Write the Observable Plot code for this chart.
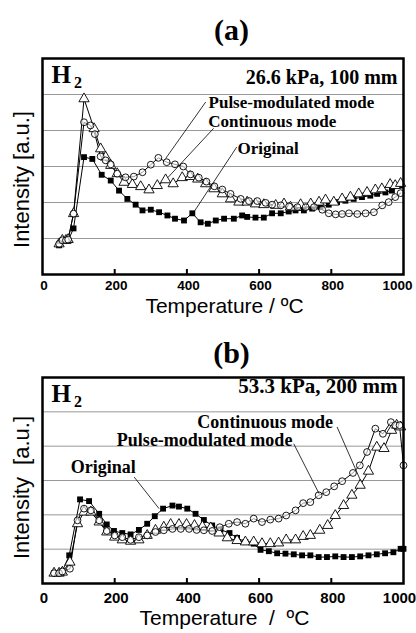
<!DOCTYPE html>
<html>
<head>
<meta charset="utf-8">
<script src="https://cdn.jsdelivr.net/npm/d3@7"></script>
<script src="https://cdn.jsdelivr.net/npm/@observablehq/plot@0.6"></script>
<style>
  html, body { margin: 0; padding: 0; background: white; }
  #root svg { display: block; }
</style>
</head>
<body>
<div id="root"></div>
<script>
// ---------- Panel (a): 26.6 kPa, 100 mm ----------
const aOrigT = [46,55,65,71,86,115,138,164,189,212,235,258,277,300,323,346,367,392,415,438,458,480,503,530,553,567,590,613,636,660,682,701,724,747,770,793,816,839,862,885,908,927,950,968,992];
const aOrigV = [0.81,0.94,0.94,0.94,1.28,3.26,3.21,2.77,2.61,2.33,2.1,1.94,1.78,1.80,1.73,1.64,1.55,1.5,1.70,1.45,1.41,1.5,1.55,1.55,1.64,1.60,1.58,1.58,1.70,1.70,1.75,1.78,1.78,1.83,1.87,1.94,2.01,2.05,2.1,2.15,2.19,2.24,2.28,2.33,2.47];
const aContT = [46,55,65,71,86,115,143,161,175,189,207,226,249,272,295,318,341,362,387,409,430,452,475,498,521,544,567,590,613,646,669,687,715,743,766,784,807,830,853,876,899,922,940,963,977,992];
const aContV = [0.85,0.95,0.95,0.97,1.69,4.88,4.05,3.49,3.26,3.03,2.8,2.56,2.5,2.44,2.35,2.47,2.63,2.52,2.69,2.72,2.65,2.52,2.38,2.24,2.1,2.01,2.01,1.96,1.94,1.92,1.96,1.87,1.94,1.96,2.01,2.07,2.01,2.1,2.15,2.24,2.28,2.35,2.38,2.5,2.47,2.53];
const aPulseT = [46,55,65,71,86,115,133,145,161,175,189,207,230,253,277,300,321,344,367,390,410,433,454,476,498,521,549,572,595,618,636,660,683,706,729,752,775,793,812,830,849,872,895,918,941,959,977,992];
const aPulseV = [0.85,0.95,0.95,0.97,1.69,4.23,4.14,3.9,3.28,3.17,3.06,2.8,2.7,2.72,2.84,3.05,3.24,3.12,3.06,3.0,2.78,2.69,2.58,2.45,2.36,2.24,2.1,2.04,2.04,1.99,1.94,1.92,1.89,1.87,1.87,1.87,1.8,1.70,1.67,1.68,1.70,1.68,1.70,1.73,1.92,2.01,2.15,2.26];

// ---------- Panel (b): 53.3 kPa, 200 mm ----------
const bOrigT = [32,46,55,74,104,129,157,178,198,221,244,267,290,311,334,360,378,401,424,447,470,493,518,539,562,585,604,627,650,673,696,719,742,765,788,811,834,857,880,903,926,949,972,992,1000];
const bOrigV = [0.30,0.30,0.36,0.82,2.45,2.40,2.03,1.72,1.53,1.47,1.43,1.56,1.74,1.96,2.18,2.27,2.24,2.18,2.03,1.85,1.69,1.57,1.47,1.33,1.21,1.16,0.98,0.94,0.88,0.87,0.85,0.82,0.82,0.77,0.77,0.79,0.77,0.77,0.79,0.82,0.85,0.88,0.91,1.01,1.01];
const bPulseT = [32,46,55,76,97,115,134,157,178,200,221,244,267,290,313,336,360,383,406,427,447,470,491,516,539,562,585,608,631,654,675,701,722,742,765,786,808,830,860,879,899,922,943,965,977,989,1000];
const bPulseV = [0.30,0.30,0.35,0.43,1.84,2.18,2.13,1.84,1.53,1.40,1.35,1.27,1.35,1.40,1.50,1.55,1.59,1.59,1.59,1.56,1.55,1.53,1.64,1.74,1.79,1.74,1.89,1.79,1.86,1.89,1.98,2.13,2.34,2.37,2.57,2.66,2.83,2.98,3.22,3.44,3.83,4.51,4.36,4.70,4.61,4.61,3.44];
const bContT = [32,46,55,76,97,115,134,157,178,200,221,244,267,290,313,336,355,378,399,421,443,466,489,512,539,562,585,608,631,654,675,701,722,742,768,790,811,834,857,880,903,926,946,967,981,992];
const bContV = [0.30,0.30,0.33,0.62,1.74,2.08,2.08,1.79,1.50,1.35,1.27,1.23,1.27,1.40,1.55,1.64,1.72,1.72,1.72,1.69,1.66,1.62,1.47,1.33,1.25,1.21,1.21,1.16,1.16,1.18,1.27,1.27,1.37,1.40,1.55,1.69,1.98,2.27,2.57,2.86,3.27,3.97,3.93,4.46,4.61,4.56];

// axis ticks & texts
const xTicks = [0, 200, 400, 600, 800];
const xTickEnd = [1000];
const innerTicks = [200, 400, 600, 800];
const gridVals = [1, 2, 3, 4, 5];
const xLabel = "Temperature / ºC";
const xLabelB = "Temperature\u00a0\u00a0/\u00a0\u00a0ºC";
const yLabel = "Intensity [a.u.]";
const yLabelB = "Intensity\u00a0\u00a0[a.u.]";

// annotation labels (data coordinates) and leader lines
const annA = [
  {text: "Pulse-modulated mode", x: 460, y: 4.78},
  {text: "Continuous mode", x: 459, y: 4.24},
  {text: "Original", x: 540, y: 3.5}
];
const leadA = [
  {x1: 452, y1: 4.79, x2: 341, y2: 3.22},
  {x1: 474, y1: 4.06, x2: 347, y2: 2.69},
  {x1: 538, y1: 3.54, x2: 419, y2: 1.73}
];
const annB = [
  {text: "Continuous mode", x: 429, y: 4.70},
  {text: "Pulse-modulated mode", x: 206, y: 4.17},
  {text: "Original", x: 78, y: 3.38}
];
const leadB = [
  {x1: 816, y1: 4.56, x2: 881, y2: 3.0},
  {x1: 696, y1: 4.07, x2: 766, y2: 2.62},
  {x1: 254, y1: 3.10, x2: 323, y2: 2.18}
];

const zip = (T, V) => T.map((t, i) => ({t, v: V[i]}));
const serif = "'Liberation Serif', 'Times New Roman', serif";
const sans = "'Liberation Sans', Arial, Helvetica, sans-serif";

function panel(o) {
  const orig = zip(o.origT, o.origV), cont = zip(o.contT, o.contV), pulse = zip(o.pulseT, o.pulseV);
  const T = {lineAnchor: "middle", fill: "black"};
  const tickText = {tickSize: 0, tickPadding: o.tickPad, tickFormat: d3.format("d"), fontSize: o.tickSize, fontWeight: "bold", label: null};
  return Plot.plot({
    width: 416, height: o.height,
    marginTop: o.mt, marginBottom: o.mb, marginLeft: 42, marginRight: 13,
    x: {domain: [0, 1000]},
    y: {domain: [0, 6], axis: null},
    style: {fontFamily: sans, background: "white", overflow: "visible"},
    marks: [
      Plot.ruleY(gridVals, {stroke: "#8c8c8c", strokeWidth: 0.9}),
      Plot.line(orig, {x: "t", y: "v", stroke: "black", strokeWidth: 1}),
      Plot.line(cont, {x: "t", y: "v", stroke: "black", strokeWidth: 1}),
      Plot.line(pulse, {x: "t", y: "v", stroke: "black", strokeWidth: 1}),
      Plot.dot(orig, {x: "t", y: "v", symbol: "square", r: 3.3, fill: "black", stroke: "none"}),
      Plot.dot(cont, {x: "t", y: "v", symbol: "triangle", r: 3.8, fill: "white", stroke: "black", strokeWidth: 0.9}),
      Plot.dot(pulse, {x: "t", y: "v", symbol: "circle", r: 3.4, fill: "white", fillOpacity: 0.6, stroke: "black", strokeWidth: 0.9}),
      Plot.link(o.lead, {x1: "x1", y1: "y1", x2: "x2", y2: "y2", stroke: "black", strokeWidth: 0.8}),
      Plot.text(o.ann, {...T, x: "x", y: "y", text: "text", textAnchor: "start", fontFamily: serif, fontWeight: "bold", fontSize: o.annSize}),
      Plot.frame({stroke: "black", strokeWidth: 2.5}),
      Plot.axisX({ticks: innerTicks, tickSize: 5, dy: -5, tickFormat: () => "", strokeWidth: 2, label: null}),
      Plot.axisX({...tickText, ticks: xTicks, dx: 1.5}),
      Plot.axisX({...tickText, ticks: xTickEnd, dx: o.endDx}),
      Plot.text([o.title], {...T, frameAnchor: "top", dx: 8.5, dy: o.titleDy, text: d => d, fontFamily: serif, fontWeight: "bold", fontSize: 30}),
      Plot.text(["H"], {...T, frameAnchor: "top-left", dx: 9, dy: o.hDy, text: d => d, textAnchor: "start", fontFamily: serif, fontWeight: "bold", fontSize: 25}),
      Plot.text(["2"], {...T, frameAnchor: "top-left", dx: 31.5, dy: o.hDy + 8.5, text: d => d, textAnchor: "start", fontFamily: serif, fontWeight: "bold", fontSize: 16}),
      Plot.text([o.cond], {...T, frameAnchor: "top-right", dx: -6, dy: o.condDy, text: d => d, textAnchor: "end", fontFamily: serif, fontWeight: "bold", fontSize: o.condSize}),
      Plot.text([o.xLabel], {...T, frameAnchor: "bottom", dx: 1.5, dy: o.xlDy, text: d => d, fontSize: 21}),
      Plot.text([o.yLabel], {...T, frameAnchor: "left", textAnchor: "middle", dx: -21, dy: o.ylDy, rotate: -90, text: d => d, fontSize: 22})
    ]
  });
}

const root = document.getElementById("root");
root.appendChild(panel({
  height: 320, mt: 58, mb: 46,
  origT: aOrigT, origV: aOrigV, contT: aContT, contV: aContV, pulseT: aPulseT, pulseV: aPulseV,
  ann: annA, lead: leadA, annSize: 17,
  tickPad: 6, tickSize: 13.5, endDx: -6,
  title: "(a)", titleDy: -28.5, hDy: 16, cond: "26.6 kPa, 100 mm", condDy: 19, condSize: 20,
  xLabel: xLabel, xlDy: 31.5, yLabel: yLabel, ylDy: 13
}));
root.appendChild(panel({
  height: 313, mt: 57, mb: 50,
  origT: bOrigT, origV: bOrigV, contT: bContT, contV: bContV, pulseT: bPulseT, pulseV: bPulseV,
  ann: annB, lead: leadB, annSize: 18,
  tickPad: 9, tickSize: 15, endDx: -4,
  title: "(b)", titleDy: -24.5, hDy: 16, cond: "53.3 kPa, 200 mm", condDy: 9, condSize: 21,
  xLabel: xLabelB, xlDy: 35, yLabel: yLabelB, ylDy: 7
}));
</script>
</body>
</html>
